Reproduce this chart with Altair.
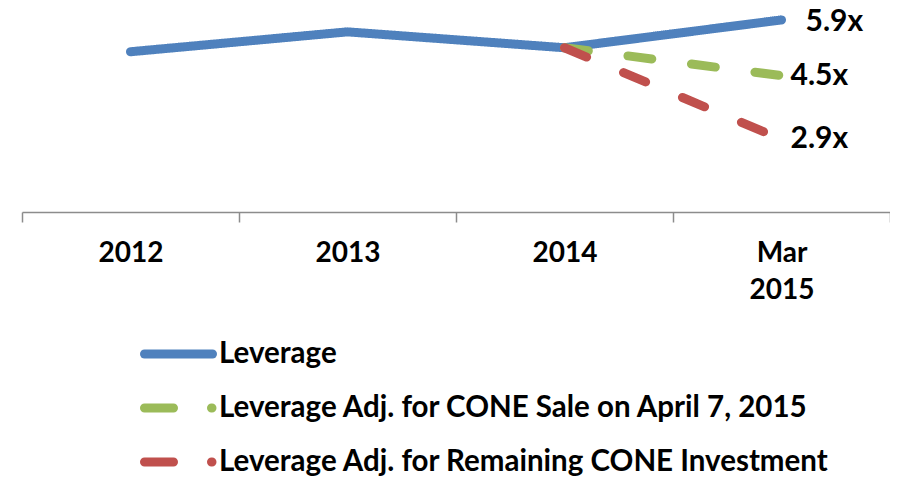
import altair as alt
import pandas as pd

periods = ["2012", "2013", "2014", "Mar 2015"]
leverage = [5.1, 5.6, 5.2, 5.9]
adj_periods = ["2014", "Mar 2015"]
adj_sale = [5.2, 4.5]
adj_remaining = [5.2, 2.9]
series_names = [
    "Leverage",
    "Leverage Adj. for CONE Sale on April 7, 2015",
    "Leverage Adj. for Remaining CONE Investment",
]
end_labels = ["5.9x", "4.5x", "2.9x"]
end_values = [leverage[-1], adj_sale[-1], adj_remaining[-1]]
colors = ["#4F81BD", "#9BBB59", "#C0504D"]

rows = []
for p, v in zip(periods, leverage):
    rows.append({"series": series_names[0], "period": p, "value": v})
for p, v in zip(adj_periods, adj_sale):
    rows.append({"series": series_names[1], "period": p, "value": v})
for p, v in zip(adj_periods, adj_remaining):
    rows.append({"series": series_names[2], "period": p, "value": v})
df = pd.DataFrame(rows)

lab_df = pd.DataFrame({
    "series": series_names,
    "period": [periods[-1]] * 3,
    "value": end_values,
    "text": end_labels,
})
legend_df = pd.DataFrame({"series": series_names})

FONT = "Lato"
xscale = alt.Scale(type="band", domain=periods, paddingInner=0, paddingOuter=0)
yscale = alt.Scale(domain=[1.07, 6.2], nice=False, zero=False)
cscale = alt.Scale(domain=series_names, range=colors)
color_enc = alt.Color("series:N", scale=cscale, legend=None)

x_enc = alt.X(
    "period:N",
    sort=periods,
    scale=xscale,
    axis=alt.Axis(
        title=None,
        labelAngle=0,
        labelFont=FONT,
        labelFontSize=28,
        labelFontWeight="bold",
        labelColor="black",
        labelBaseline="top",
        labelPadding=17,
        labelLineHeight=37,
        labelExpr="datum.value == 'Mar 2015' ? ['Mar', '2015'] : datum.value",
        tickBand="extent",
        tickSize=10,
        tickColor="#8c8c8c",
        tickWidth=1.5,
        domainColor="#8c8c8c",
        domainWidth=1.5,
        grid=False,
    ),
)
y_enc = alt.Y("value:Q", scale=yscale, axis=None)

lines = alt.Chart(df).mark_line(strokeWidth=9, strokeCap="round", strokeJoin="round").encode(
    x=x_enc,
    y=y_enc,
    color=color_enc,
    strokeDash=alt.StrokeDash(
        "series:N",
        scale=alt.Scale(domain=series_names, range=[[1, 0], [24, 40], [24, 40]]),
        legend=None,
    ),
)

text_layers = []
for name, dx, dy in zip(series_names, [24, 9, 9], [2, 0, 0]):
    t = alt.Chart(lab_df).transform_filter(alt.datum.series == name).mark_text(
        align="left", baseline="middle", dx=dx, dy=dy, font=FONT, fontSize=30, fontWeight="bold", color="black"
    ).encode(x=alt.X("period:N", sort=periods, scale=xscale),
             y=alt.Y("value:Q", scale=yscale, axis=None),
             text="text:N")
    text_layers.append(t)

# custom legend (below the axis)
ly = alt.Y("series:N", scale=alt.Scale(type="point", domain=series_names, range=[346, 454], padding=0), axis=None)
leg_solid = alt.Chart(legend_df).transform_filter(alt.datum.series == series_names[0]).mark_rule(
    strokeWidth=9, strokeCap="round"
).encode(x=alt.value(122.5), x2=alt.value(190.5), y=ly, color=color_enc)
leg_dash = alt.Chart(legend_df).transform_filter(alt.datum.series != series_names[0]).mark_rule(
    strokeWidth=9, strokeCap="round", strokeDash=[29, 38]
).encode(x=alt.value(122.5), x2=alt.value(190), y=ly, color=color_enc)
leg_text = alt.Chart(legend_df).mark_text(
    align="left", baseline="middle", font=FONT, fontSize=29.5, fontWeight="bold", color="black"
).encode(x=alt.value(197), y=ly, text="series:N")

chart = alt.layer(lines, *text_layers, leg_solid, leg_dash, leg_text).resolve_scale(
    y="independent"
).properties(
    width=868,
    height=204,
    background="white",
    autosize=alt.AutoSizeParams(type="none"),
    padding={"left": 14, "top": 0, "right": 0, "bottom": 265},
).configure_view(stroke=None)

chart.save("out.html", embed_options={"renderer": "svg", "actions": False})
